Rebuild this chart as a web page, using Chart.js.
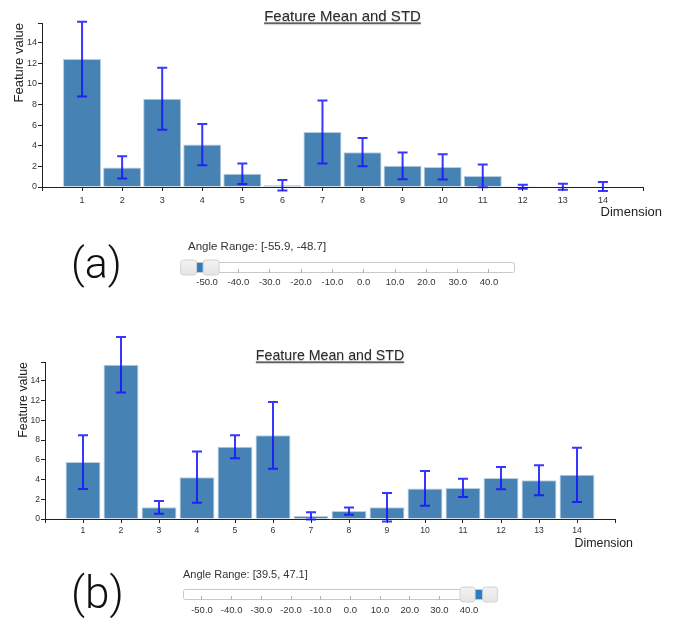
<!DOCTYPE html>
<html><head><meta charset="utf-8">
<script src="https://cdn.jsdelivr.net/npm/chart.js@4.4.1/dist/chart.umd.min.js"></script>
<style>
html,body{margin:0;padding:0;background:#fff;}
body{width:673px;height:618px;position:relative;overflow:hidden;}
canvas{position:absolute;left:0;}
.lab{position:absolute;font-family:Roboto,"Open Sans","Liberation Sans",sans-serif;font-weight:300;font-size:43px;line-height:43px;color:#111;}
</style></head>
<body>
<canvas id="chartA" width="673" height="222" style="top:0px"></canvas>
<canvas id="sliderA" width="673" height="60" style="top:235px"></canvas>
<div class="lab" style="left:71px;top:242px">(a)</div>
<canvas id="chartB" width="673" height="222" style="top:330px"></canvas>
<canvas id="sliderB" width="673" height="58" style="top:560px"></canvas>
<div class="lab" style="left:71px;top:572px;font-size:44px">(b)</div>
<script>
// ---- data ----
const dims = [1,2,3,4,5,6,7,8,9,10,11,12,13,14];
const meanA = [12.4, 1.9, 8.55, 4.12, 1.28, 0.17, 5.33, 3.38, 2.05, 1.95, 1.07, 0.02, 0.03, 0.05];
const stdA  = [3.62, 1.08, 3.0, 2.0, 1.0, 0.5, 3.05, 1.37, 1.3, 1.22, 1.1, 0.19, 0.29, 0.44];
const meanB = [5.76, 15.62, 1.18, 4.24, 7.32, 8.47, 0.31, 0.8, 1.19, 3.1, 3.15, 4.14, 3.93, 4.47];
const stdB  = [2.72, 2.8, 0.65, 2.6, 1.17, 3.37, 0.37, 0.36, 1.45, 1.77, 0.92, 1.13, 1.52, 2.75];
const yTicks = [0,2,4,6,8,10,12,14];
const yMax = 15.9;
const xMax = 15;
const angleTicks = [-50,-40,-30,-20,-10,0,10,20,30,40];
const rangeA = [-55.9, -48.7];
const rangeB = [39.5, 47.1];
const titleText = 'Feature Mean and STD';
const yLabelText = 'Feature value';
const xLabelText = 'Dimension';

Chart.defaults.font.family = "'Liberation Sans', Arial, Helvetica, sans-serif";

const errorBars = {
  id: 'errorBars',
  afterDatasetsDraw(chart) {
    const {ctx, scales: {x, y}} = chart;
    const ds = chart.data.datasets[0];
    ctx.save();
    ctx.strokeStyle = 'rgba(20,20,255,0.85)';
    ctx.lineWidth = 2;
    ds.data.forEach((p, i) => {
      const s = ds.std[i];
      const px = x.getPixelForValue(p.x);
      const t = y.getPixelForValue(p.y + s), b = y.getPixelForValue(p.y - s);
      ctx.beginPath();
      ctx.moveTo(px, t); ctx.lineTo(px, b);
      ctx.moveTo(px - 5, t); ctx.lineTo(px + 5, t);
      ctx.moveTo(px - 5, b); ctx.lineTo(px + 5, b);
      ctx.stroke();
    });
    ctx.restore();
  }
};

const decor = {
  id: 'decor',
  afterDraw(chart, args, o) {
    const {ctx, chartArea: a} = chart;
    ctx.save();
    ctx.font = o.titleSize + "px 'Liberation Sans', Arial, sans-serif";
    ctx.fillStyle = '#2a2a2a';
    ctx.textAlign = 'center';
    ctx.textBaseline = 'alphabetic';
    const cx = (a.left + a.right) / 2;
    const by = a.top + o.titleDY;
    ctx.shadowColor = 'rgba(0,0,0,0.25)';
    ctx.shadowOffsetY = 1;
    ctx.shadowBlur = 1;
    ctx.fillText(titleText, cx, by);
    const w = ctx.measureText(titleText).width;
    ctx.fillRect(cx - w / 2, by + 1.5, w, 1.2);
    ctx.shadowColor = 'transparent';
    ctx.font = o.labelSize + "px 'Liberation Sans', Arial, sans-serif";
    ctx.fillStyle = '#222';
    ctx.save();
    ctx.translate(a.left + o.yLabelDX, a.top);
    ctx.rotate(-Math.PI / 2);
    ctx.textAlign = 'right';
    ctx.fillText(yLabelText, 0, 0);
    ctx.restore();
    ctx.textAlign = 'right';
    ctx.fillText(xLabelText, a.right + o.xLabelDX, a.bottom + o.xLabelDY);
    ctx.restore();
  }
};

function barChart(id, means, stds, g) {
  return new Chart(document.getElementById(id), {
    type: 'bar',
    data: {
      datasets: [{
        data: dims.map((d, i) => ({x: d, y: means[i]})),
        std: stds,
        backgroundColor: '#4682b4',
        borderColor: '#b7cde2',
        borderWidth: 1,
        barPercentage: g.bp,
        categoryPercentage: 1
      }]
    },
    options: {
      responsive: false, animation: false, events: [],
      layout: {padding: {top: g.top, right: g.right, left: 0, bottom: 0}},
      plugins: {
        legend: {display: false}, tooltip: {enabled: false},
        decor: {titleSize: g.titleSize, titleDY: -2, labelSize: g.labelSize,
                yLabelDX: g.yLabelDX, xLabelDX: g.xLabelDX, xLabelDY: g.xLabelDY}
      },
      scales: {
        x: {
          type: 'linear', min: 0, max: xMax, offset: false,
          afterBuildTicks: s => { s.ticks = [0, ...dims, xMax].map(v => ({value: v})); },
          afterFit: s => { s.height = g.xh; },
          grid: {drawOnChartArea: false, offset: false, tickLength: 4, color: '#222'},
          border: {color: '#222'},
          ticks: {callback: v => dims.includes(v) ? String(v) : '', font: {size: g.fs}, color: '#333',
                  padding: g.xpad, maxRotation: 0, autoSkip: false}
        },
        y: {
          min: 0, max: yMax,
          afterBuildTicks: s => { s.ticks = [...yTicks, yMax].map(v => ({value: v})); },
          afterFit: s => { s.width = g.left; },
          grid: {drawOnChartArea: false, tickLength: 4, color: '#222'},
          border: {color: '#222'},
          ticks: {callback: v => yTicks.includes(v) ? String(v) : '', font: {size: g.fs}, color: '#333', padding: 1}
        }
      }
    },
    plugins: [errorBars, decor]
  });
}

function roundRect(ctx, x, y, w, h, r) {
  ctx.beginPath();
  ctx.moveTo(x + r, y);
  ctx.lineTo(x + w - r, y); ctx.quadraticCurveTo(x + w, y, x + w, y + r);
  ctx.lineTo(x + w, y + h - r); ctx.quadraticCurveTo(x + w, y + h, x + w - r, y + h);
  ctx.lineTo(x + r, y + h); ctx.quadraticCurveTo(x, y + h, x, y + h - r);
  ctx.lineTo(x, y + r); ctx.quadraticCurveTo(x, y, x + r, y);
  ctx.closePath();
}

const sliderDecor = {
  id: 'sliderDecor',
  beforeDraw(chart) {
    const {ctx, chartArea: a} = chart;
    ctx.save();
    ctx.fillStyle = '#fff';
    ctx.strokeStyle = '#c8c8c8';
    ctx.lineWidth = 1;
    roundRect(ctx, a.left + 0.5, a.top + 0.5, a.right - a.left - 1, a.bottom - a.top - 1, 2);
    ctx.fill(); ctx.stroke();
    ctx.restore();
  },
  afterDatasetsDraw(chart, args, o) {
    const {ctx, chartArea: a, scales: {x}} = chart;
    const cy = (a.top + a.bottom) / 2;
    ctx.save();
    o.range.forEach(v => {
      const px = x.getPixelForValue(v);
      const grd = ctx.createLinearGradient(0, cy - 8, 0, cy + 8);
      grd.addColorStop(0, '#f3f3f3'); grd.addColorStop(1, '#e4e4e4');
      ctx.fillStyle = grd;
      ctx.strokeStyle = '#d2d2d2';
      roundRect(ctx, px - o.hw / 2 + 0.5, cy - 8 + 0.5, o.hw - 1, 15, 3);
      ctx.fill(); ctx.stroke();
    });
    ctx.restore();
  },
  afterDraw(chart, args, o) {
    const {ctx, chartArea: a} = chart;
    ctx.save();
    ctx.font = o.fs + "px 'Liberation Sans', Arial, sans-serif";
    ctx.fillStyle = '#333';
    ctx.textBaseline = 'middle';
    ctx.fillText('Angle Range: [' + o.range[0].toFixed(1) + ', ' + o.range[1].toFixed(1) + ']', o.textX, a.top + o.textDY);
    ctx.restore();
  }
};

function slider(id, range, g) {
  return new Chart(document.getElementById(id), {
    type: 'bar',
    data: {labels: ['range'], datasets: [{data: [range], backgroundColor: '#2b7cc3', borderWidth: 0,
           barPercentage: 0.82, categoryPercentage: 1}]},
    options: {
      indexAxis: 'y', responsive: false, animation: false, events: [],
      layout: {padding: {top: g.top, left: g.left, right: g.right, bottom: 0}},
      plugins: {legend: {display: false}, tooltip: {enabled: false},
        sliderDecor: {range: range, hw: g.hw, fs: g.fs, textX: g.textX, textDY: g.textDY}},
      scales: {
        x: {
          type: 'linear', min: g.min, max: g.max,
          afterBuildTicks: s => { s.ticks = angleTicks.map(v => ({value: v})); },
          afterFit: s => { s.height = g.xh; },
          grid: {drawOnChartArea: false, tickLength: -4, color: '#b0b0b0'},
          border: {display: false},
          ticks: {callback: v => v.toFixed(1), font: {size: 9.5, family: "'Liberation Sans Narrow', 'Arial Narrow', 'Liberation Sans', sans-serif"},
                  color: '#333', padding: g.pad, maxRotation: 0, autoSkip: false}
        },
        y: {display: false}
      }
    },
    plugins: [sliderDecor]
  });
}

barChart('chartA', meanA, stdA, {top: 23, right: 30, left: 42, xh: 35, bp: 0.95, fs: 9, xpad: 4,
  titleSize: 15, labelSize: 13, yLabelDX: -19, xLabelDX: 19, xLabelDY: 29});
barChart('chartB', meanB, stdB, {top: 32, right: 58, left: 45, xh: 33, bp: 0.92, fs: 8.6, xpad: 2,
  titleSize: 14.2, labelSize: 12.4, yLabelDX: -18, xLabelDX: 18, xLabelDY: 28});
slider('sliderA', rangeA, {top: 27, left: 182, right: 673 - 515, xh: 22, min: -58, max: 48.3, pad: 8,
  hw: 17, fs: 11.5, textX: 188, textDY: -15});
slider('sliderB', rangeB, {top: 29, left: 183, right: 673 - 494, xh: 18, min: -56.4, max: 48.4, pad: 9,
  hw: 16, fs: 11, textX: 183, textDY: -14});
</script>
</body></html>
